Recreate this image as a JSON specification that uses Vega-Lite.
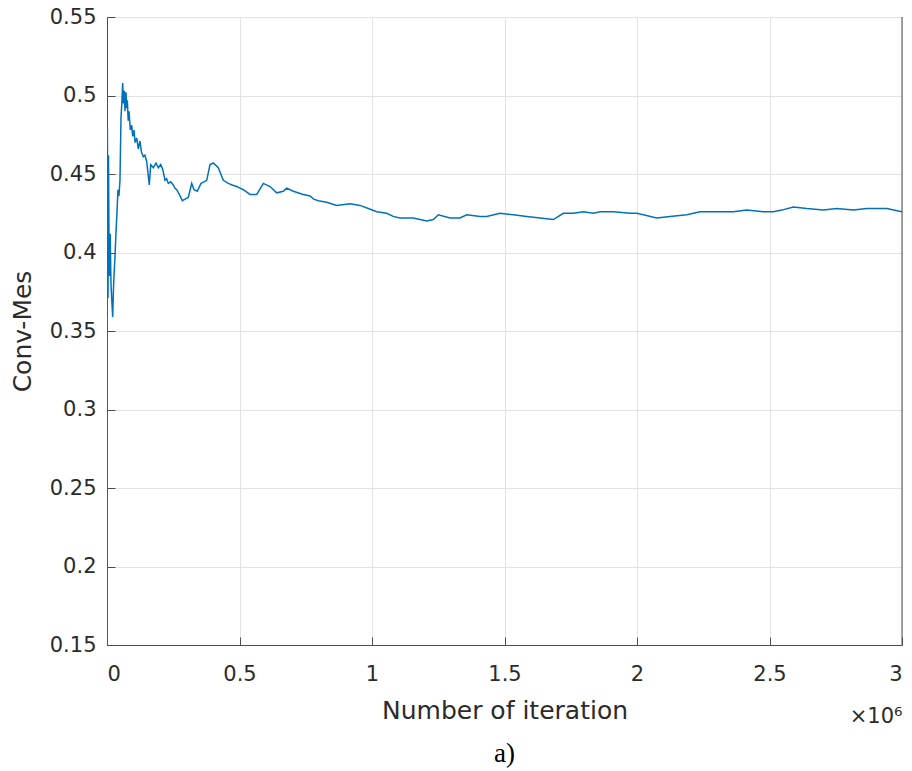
{
  "$schema": "https://vega.github.io/schema/vega-lite/v6.json",
  "width": 795,
  "height": 628,
  "autosize": {"type": "none"},
  "padding": {"left": 107, "top": 17, "right": 10, "bottom": 126},
  "background": "white",
  "config": {"view": {"stroke": "#4d4d4d", "strokeWidth": 1}, "font": "DejaVu Sans"},
  "title": {"text": "a)", "orient": "bottom", "anchor": "middle", "font": "Liberation Serif", "fontSize": 27, "fontWeight": "normal", "color": "#000000", "offset": 15},
  "data": {"values": [
    {"it": 0, "v": 0.15}, {"it": 1500, "v": 0.479}, {"it": 2500, "v": 0.43}, {"it": 3800, "v": 0.371},
    {"it": 5500, "v": 0.462}, {"it": 7500, "v": 0.41}, {"it": 9500, "v": 0.385}, {"it": 12000, "v": 0.412},
    {"it": 15000, "v": 0.38}, {"it": 18000, "v": 0.37}, {"it": 21500, "v": 0.359}, {"it": 25000, "v": 0.38},
    {"it": 30000, "v": 0.397}, {"it": 34000, "v": 0.413}, {"it": 38000, "v": 0.427}, {"it": 41500, "v": 0.44},
    {"it": 45000, "v": 0.436}, {"it": 49000, "v": 0.446}, {"it": 52800, "v": 0.486}, {"it": 56000, "v": 0.495},
    {"it": 59200, "v": 0.508}, {"it": 62000, "v": 0.495}, {"it": 65400, "v": 0.503}, {"it": 68000, "v": 0.49},
    {"it": 71700, "v": 0.502}, {"it": 74000, "v": 0.492}, {"it": 76700, "v": 0.497}, {"it": 80000, "v": 0.484},
    {"it": 83000, "v": 0.49}, {"it": 88000, "v": 0.478}, {"it": 93200, "v": 0.481}, {"it": 97000, "v": 0.474},
    {"it": 101900, "v": 0.478}, {"it": 106000, "v": 0.47}, {"it": 112100, "v": 0.473}, {"it": 118000, "v": 0.466},
    {"it": 124500, "v": 0.471}, {"it": 130000, "v": 0.464}, {"it": 137000, "v": 0.461}, {"it": 143000, "v": 0.462}, {"it": 149800, "v": 0.458}, {"it": 159600, "v": 0.443},
    {"it": 164900, "v": 0.456}, {"it": 174700, "v": 0.454}, {"it": 184900, "v": 0.457}, {"it": 193600, "v": 0.454},
    {"it": 202700, "v": 0.456}, {"it": 210200, "v": 0.453}, {"it": 218900, "v": 0.446}, {"it": 225000, "v": 0.447}, {"it": 231300, "v": 0.444},
    {"it": 240400, "v": 0.445}, {"it": 250200, "v": 0.443}, {"it": 256000, "v": 0.441}, {"it": 263000, "v": 0.44}, {"it": 272900, "v": 0.437},
    {"it": 284200, "v": 0.433}, {"it": 294400, "v": 0.434}, {"it": 306800, "v": 0.435}, {"it": 319700, "v": 0.444},
    {"it": 328300, "v": 0.44}, {"it": 340800, "v": 0.439}, {"it": 354800, "v": 0.444}, {"it": 366100, "v": 0.445},
    {"it": 376300, "v": 0.446}, {"it": 388700, "v": 0.456}, {"it": 401200, "v": 0.457}, {"it": 420000, "v": 0.454},
    {"it": 438900, "v": 0.446}, {"it": 457800, "v": 0.444}, {"it": 472000, "v": 0.443}, {"it": 489500, "v": 0.442}, {"it": 502000, "v": 0.441}, {"it": 514400, "v": 0.44},
    {"it": 539700, "v": 0.437}, {"it": 565000, "v": 0.437}, {"it": 589900, "v": 0.444}, {"it": 615200, "v": 0.442},
    {"it": 640400, "v": 0.438}, {"it": 665400, "v": 0.439}, {"it": 678200, "v": 0.441}, {"it": 703100, "v": 0.439},
    {"it": 740800, "v": 0.437}, {"it": 766100, "v": 0.436}, {"it": 780000, "v": 0.434}, {"it": 797500, "v": 0.433}, {"it": 829200, "v": 0.432},
    {"it": 866900, "v": 0.43}, {"it": 917100, "v": 0.431}, {"it": 954800, "v": 0.43}, {"it": 986100, "v": 0.428},
    {"it": 1017800, "v": 0.426}, {"it": 1055600, "v": 0.425}, {"it": 1080000, "v": 0.423}, {"it": 1105800, "v": 0.422}, {"it": 1156000, "v": 0.422},
    {"it": 1206500, "v": 0.42}, {"it": 1231500, "v": 0.421}, {"it": 1250400, "v": 0.424}, {"it": 1294500, "v": 0.422},
    {"it": 1332200, "v": 0.422}, {"it": 1357500, "v": 0.424}, {"it": 1407700, "v": 0.423}, {"it": 1433000, "v": 0.423},
    {"it": 1483200, "v": 0.425}, {"it": 1533400, "v": 0.424}, {"it": 1583900, "v": 0.423}, {"it": 1634100, "v": 0.422},
    {"it": 1684300, "v": 0.421}, {"it": 1722100, "v": 0.425}, {"it": 1759800, "v": 0.425}, {"it": 1797500, "v": 0.426},
    {"it": 1835300, "v": 0.425}, {"it": 1860600, "v": 0.426}, {"it": 1910800, "v": 0.426}, {"it": 1973800, "v": 0.425},
    {"it": 2000000, "v": 0.425}, {"it": 2074600, "v": 0.422}, {"it": 2124800, "v": 0.423}, {"it": 2187800, "v": 0.424},
    {"it": 2238000, "v": 0.426}, {"it": 2301000, "v": 0.426}, {"it": 2363700, "v": 0.426}, {"it": 2414300, "v": 0.427},
    {"it": 2476900, "v": 0.426}, {"it": 2514700, "v": 0.426}, {"it": 2546300, "v": 0.427}, {"it": 2590100, "v": 0.429},
    {"it": 2640700, "v": 0.428}, {"it": 2703300, "v": 0.427}, {"it": 2753900, "v": 0.428}, {"it": 2816500, "v": 0.427},
    {"it": 2867100, "v": 0.428}, {"it": 2942600, "v": 0.428}, {"it": 3000000, "v": 0.426}
  ]},
  "layer": [
    {
      "mark": {"type": "line", "color": "#0072BD", "strokeWidth": 1.5, "clip": true},
      "encoding": {
        "x": {
          "field": "it", "type": "quantitative",
          "scale": {"domain": [0, 3000000], "nice": false, "zero": false},
          "axis": {
            "values": [0, 500000, 1000000, 1500000, 2000000, 2500000, 3000000],
            "labelExpr": "format(datum.value/1000000, '~g')",
            "title": "Number of iteration",
            "grid": true, "gridColor": "#e3e3e3", "gridWidth": 1,
            "tickSize": -8, "tickColor": "#4d4d4d", "domainColor": "#4d4d4d",
            "labelFont": "DejaVu Sans", "labelFontSize": 21, "labelColor": "#2b2b2b", "labelPadding": 26,
            "titleFont": "DejaVu Sans", "titleFontSize": 25, "titleFontWeight": "normal", "titleColor": "#2b2b2b", "titlePadding": 14
          }
        },
        "y": {
          "field": "v", "type": "quantitative",
          "scale": {"domain": [0.15, 0.55], "nice": false, "zero": false},
          "axis": {
            "values": [0.15, 0.2, 0.25, 0.3, 0.35, 0.4, 0.45, 0.5, 0.55],
            "format": ".2~f",
            "title": "Conv-Mes",
            "grid": true, "gridColor": "#e3e3e3", "gridWidth": 1,
            "tickSize": -8, "tickColor": "#4d4d4d", "domainColor": "#4d4d4d",
            "labelFont": "DejaVu Sans", "labelFontSize": 21, "labelColor": "#2b2b2b", "labelPadding": 19,
            "titleFont": "DejaVu Sans", "titleFontSize": 25, "titleFontWeight": "normal", "titleColor": "#2b2b2b",
            "titleX": -72, "titleY": 314, "titleBaseline": "bottom", "titleAngle": 270, "titleAlign": "center"
          }
        }
      }
    },
    {
      "data": {"values": [{"it": 3000000}]},
      "mark": {"type": "rule", "color": "#4d4d4d", "strokeWidth": 1},
      "encoding": {
        "x": {
          "field": "it", "type": "quantitative",
          "axis": {
            "orient": "bottom", "labels": false, "ticks": false, "domain": false, "grid": false,
            "title": "×10⁶", "titleAnchor": "end",
            "titleFont": "DejaVu Sans", "titleFontSize": 21, "titleFontWeight": "normal", "titleColor": "#2b2b2b", "titlePadding": 60
          }
        }
      }
    }
  ],
  "resolve": {"axis": {"x": "independent"}}
}
